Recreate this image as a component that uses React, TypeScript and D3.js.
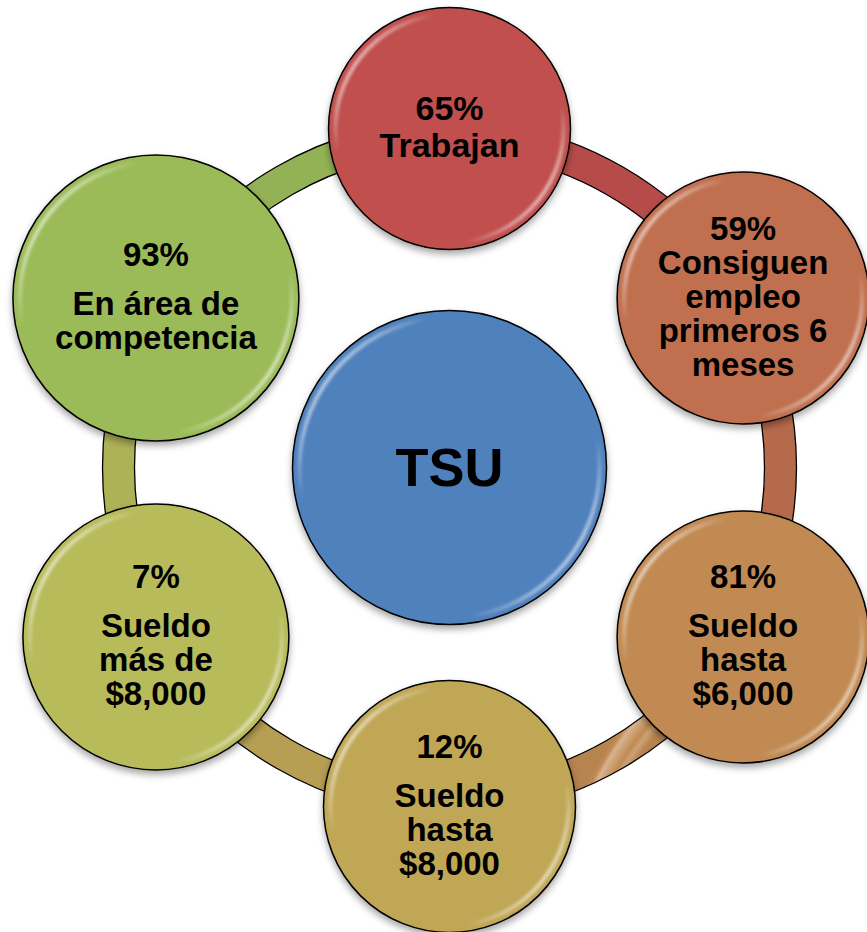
import React from "react";
import * as d3 from "d3";

// ---- Data ----
const percents = ["65%", "59%", "81%", "12%", "7%", "93%"];
const descriptions: string[][] = [
  ["Trabajan"],
  ["Consiguen", "empleo", "primeros 6", "meses"],
  ["Sueldo", "hasta", "$6,000"],
  ["Sueldo", "hasta", "$8,000"],
  ["Sueldo", "más de", "$8,000"],
  ["En área de", "competencia"],
];
const paragraphGap = [false, false, true, true, true, true];
const nodeColors = ["#C0504D", "#C07050", "#C18A53", "#C0A757", "#B7BB5A", "#9BBB59"];
const centerLabel = "TSU";
const centerColor = "#4F81BD";

// ---- Layout ----
const W = 867;
const H = 932;
const CX = 449.5;
const CY = 467.5;
const ORBIT = 339;
const RING_R = 331;
const RING_W = 32;
const NODE_R = [121, 126, 126, 126, 133, 143];
const CENTER_R = 157;
const FONT = "'Liberation Sans', Arial, Helvetica, sans-serif";

export default function App() {
  const n = percents.length;
  const angle = d3.scaleLinear().domain([0, n]).range([0, 2 * Math.PI]);
  const pos = (i: number) => {
    const a = angle(i);
    return [CX + ORBIT * Math.sin(a), CY - ORBIT * Math.cos(a)];
  };
  const ringInner = RING_R - RING_W / 2;
  const ringOuter = RING_R + RING_W / 2;
  const arc = d3.arc<any>().innerRadius(ringInner).outerRadius(ringOuter);

  const lighten = (c: string, k: number) => d3.interpolateRgb(c, "#ffffff")(k);
  const darken = (c: string, k: number) => d3.interpolateRgb(c, "#000000")(k);

  const textBlock = (i: number) => {
    const fs = i === 0 ? 34 : 33;
    const lh = i === 0 ? 37 : 34;
    const gap = paragraphGap[i] ? 15 : 0;
    const lines = [percents[i], ...descriptions[i]];
    const base: number[] = [];
    let y = 0;
    lines.forEach((_, k) => {
      if (k === 1) y += lh + gap;
      else if (k > 1) y += lh;
      base.push(y);
    });
    const cap = fs * 0.716;
    const mid = (-cap + base[base.length - 1]) / 2;
    const shift = -2 - mid;
    return { fs, lines, base: base.map((b) => b + shift) };
  };

  return (
    <svg
      width={W}
      height={H}
      style={{ position: "absolute", left: 0, top: 0, background: "#fff" }}
    >
      <defs>
        <filter id="shadow" x="-20%" y="-20%" width="140%" height="150%">
          <feDropShadow dx="0" dy="4" stdDeviation="3.5" floodColor="#000" floodOpacity="0.35" />
        </filter>
        <filter id="blur" x="-10%" y="-10%" width="120%" height="120%">
          <feGaussianBlur stdDeviation="1.4" />
        </filter>
        <linearGradient id="rim" x1="0" y1="0.15" x2="1" y2="0.85">
          <stop offset="0" stopColor="#fff" stopOpacity="0.95" />
          <stop offset="0.22" stopColor="#fff" stopOpacity="0" />
          <stop offset="0.78" stopColor="#fff" stopOpacity="0" />
          <stop offset="1" stopColor="#fff" stopOpacity="0.95" />
        </linearGradient>
        {nodeColors.map((c, i) => (
          <radialGradient
            key={i}
            id={`ring-${i}`}
            gradientUnits="userSpaceOnUse"
            cx={CX}
            cy={CY}
            r={ringOuter}
          >
            <stop offset={ringInner / ringOuter} stopColor={darken(c, 0.05)} />
            <stop offset={(ringInner + 7) / ringOuter} stopColor={lighten(c, 0.2)} />
            <stop offset={(ringInner + 12) / ringOuter} stopColor={c} />
            <stop offset={(ringOuter - 8) / ringOuter} stopColor={lighten(c, 0.35)} />
            <stop offset={(ringOuter - 4) / ringOuter} stopColor={c} />
            <stop offset={1} stopColor={darken(c, 0.05)} />
          </radialGradient>
        ))}
      </defs>

      {/* ring segments */}
      <g transform={`translate(${CX},${CY})`}>
        {nodeColors.map((c, i) => (
          <path
            key={i}
            d={arc({ startAngle: angle(i), endAngle: angle(i + 1) }) as string}
            fill={`url(#ring-${i})`}
            stroke="#000"
            strokeWidth={1.3}
          />
        ))}
      </g>

      {/* center node */}
      <g filter="url(#shadow)">
        <circle cx={CX} cy={CY} r={CENTER_R} fill={centerColor} stroke="#000" strokeWidth={1.5} />
      </g>
      <circle
        cx={CX}
        cy={CY}
        r={CENTER_R - 7}
        fill="none"
        stroke="url(#rim)"
        strokeWidth={4}
        filter="url(#blur)"
      />
      <text
        x={CX}
        y={CY + 18}
        textAnchor="middle"
        fontFamily={FONT}
        fontWeight="bold"
        fontSize={54}
        fill="#000"
      >
        {centerLabel}
      </text>

      {/* outer nodes */}
      {nodeColors.map((c, i) => {
        const [x, y] = pos(i);
        const r = NODE_R[i];
        const tb = textBlock(i);
        return (
          <g key={i}>
            <g filter="url(#shadow)">
              <circle cx={x} cy={y} r={r} fill={c} stroke="#000" strokeWidth={1.5} />
            </g>
            <circle
              cx={x}
              cy={y}
              r={r - 7}
              fill="none"
              stroke="url(#rim)"
              strokeWidth={4}
              filter="url(#blur)"
            />
            <text
              textAnchor="middle"
              fontFamily={FONT}
              fontWeight="bold"
              fontSize={tb.fs}
              fill="#000"
            >
              {tb.lines.map((l, k) => (
                <tspan key={k} x={x} y={y + tb.base[k]}>
                  {l}
                </tspan>
              ))}
            </text>
          </g>
        );
      })}
    </svg>
  );
}
